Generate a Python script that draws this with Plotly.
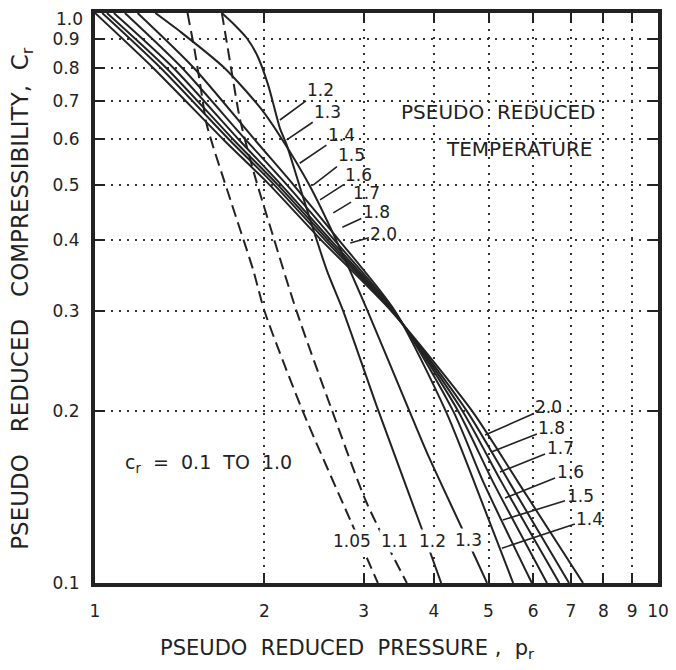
import math
import plotly.graph_objects as go

# pseudo reduced compressibility levels used for the Tr 1.4 - 2.0 curves
cr_band = [1.0, 0.8, 0.6, 0.5, 0.4, 0.3, 0.2, 0.15, 0.1]
pr_t20 = [1.00, 1.27, 1.69, 2.04, 2.52, 3.36, 4.68, 5.65, 7.36]
pr_t18 = [1.03, 1.31, 1.73, 2.08, 2.56, 3.37, 4.58, 5.45, 6.95]
pr_t17 = [1.05, 1.34, 1.76, 2.11, 2.59, 3.38, 4.50, 5.28, 6.68]
pr_t16 = [1.08, 1.38, 1.80, 2.14, 2.62, 3.39, 4.42, 5.10, 6.35]
pr_t15 = [1.13, 1.43, 1.85, 2.19, 2.66, 3.40, 4.33, 4.90, 5.97]
pr_t14 = [1.19, 1.50, 1.92, 2.25, 2.71, 3.41, 4.20, 4.72, 5.53]

pr_t13 = [1.28, 1.42, 1.70, 1.97, 2.15, 2.40, 2.68, 3.05, 3.62, 3.89, 4.48, 4.97]
cr_t13 = [1.0, 0.926, 0.8, 0.68, 0.6, 0.5, 0.4, 0.3, 0.2, 0.169, 0.125, 0.1]

pr_t12 = [1.68, 1.77, 1.86, 1.94, 2.03, 2.13, 2.19, 2.35, 2.58, 2.76, 3.19, 3.80, 4.12]
cr_t12 = [1.0, 0.953, 0.904, 0.844, 0.748, 0.628, 0.587, 0.47, 0.354, 0.30, 0.20, 0.125, 0.10]

# dashed curves
pr_t11 = [1.68, 1.72, 1.76, 1.81, 1.92, 2.05, 2.28, 2.64, 3.04, 3.58]
cr_t11 = [1.0, 0.87, 0.76, 0.65, 0.52, 0.42, 0.30, 0.20, 0.138, 0.10]
pr_t105 = [1.46, 1.505, 1.543, 1.58, 1.74, 1.91, 2.0, 2.34, 2.84, 3.18]
cr_t105 = [1.0, 0.854, 0.733, 0.636, 0.47, 0.354, 0.30, 0.20, 0.129, 0.10]

x_ticks = [1, 2, 3, 4, 5, 6, 7, 8, 9, 10]
x_text = ["1", "2", "3", "4", "5", "6", "7", "8", "9", "10"]
y_ticks = [0.1, 0.2, 0.3, 0.4, 0.5, 0.6, 0.7, 0.8, 0.9, 1.0]
# the top label is written as an annotation so it is not cut at the page edge
y_text = ["0.1", "0.2", "0.3", "0.4", "0.5", "0.6", "0.7", "0.8", "0.9", ""]
y_top_text = "1.0"

# label text position (pr, cr) and leader tip (pr, cr)
top_labels = [
    ("1.2", 2.52, 0.733, 2.13, 0.649),
    ("1.3", 2.59, 0.670, 2.19, 0.599),
    ("1.4", 2.74, 0.611, 2.31, 0.545),
    ("1.5", 2.86, 0.563, 2.44, 0.499),
    ("1.6", 2.94, 0.520, 2.51, 0.470),
    ("1.7", 3.03, 0.483, 2.65, 0.446),
    ("1.8", 3.16, 0.448, 2.75, 0.421),
    ("2.0", 3.26, 0.410, 2.84, 0.395),
]
bottom_labels = [
    ("2.0", 6.40, 0.2036, 4.93, 0.1818),
    ("1.8", 6.48, 0.187, 5.07, 0.170),
    ("1.7", 6.70, 0.1725, 5.24, 0.1566),
    ("1.6", 6.98, 0.1566, 5.35, 0.141),
    ("1.5", 7.27, 0.142, 5.30, 0.129),
    ("1.4", 7.57, 0.1295, 5.28, 0.1151),
]
# labels sitting on the curves near the bottom
inline_labels = [("1.05", 2.86, 0.1185), ("1.1", 3.41, 0.1185), ("1.2", 3.98, 0.1185), ("1.3", 4.60, 0.1192)]

INK = "#222222"
FONT = "DejaVu Sans"

fig = go.Figure()

curves = [
    (pr_t20, cr_band, "solid"),
    (pr_t18, cr_band, "solid"),
    (pr_t17, cr_band, "solid"),
    (pr_t16, cr_band, "solid"),
    (pr_t15, cr_band, "solid"),
    (pr_t14, cr_band, "solid"),
    (pr_t13, cr_t13, "solid"),
    (pr_t12, cr_t12, "solid"),
    (pr_t11, cr_t11, "12px,6px"),
    (pr_t105, cr_t105, "12px,6px"),
]
for px_, cy_, dash in curves:
    fig.add_trace(go.Scatter(
        x=px_, y=cy_, mode="lines",
        line=dict(color=INK, width=2, dash=dash, shape="spline", smoothing=0.7),
        hoverinfo="skip",
    ))

ann = []
for txt, tx, ty, hx, hy in top_labels + bottom_labels:
    ann.append(dict(
        x=math.log10(hx), y=math.log10(hy), ax=math.log10(tx), ay=math.log10(ty),
        xref="x", yref="y", axref="x", ayref="y",
        text=txt, showarrow=True, arrowhead=0, arrowwidth=1.6, arrowcolor=INK,
        font=dict(size=17, color=INK, family=FONT),
    ))
for txt, tx, ty in inline_labels:
    ann.append(dict(
        x=math.log10(tx), y=math.log10(ty), xref="x", yref="y",
        text=txt, showarrow=False, bgcolor="white",
        font=dict(size=17, color=INK, family=FONT),
    ))

ann.append(dict(x=math.log10(5.20), y=math.log10(0.670), xref="x", yref="y",
                text="PSEUDO  REDUCED", showarrow=False,
                font=dict(size=20, color=INK, family=FONT)))
ann.append(dict(x=math.log10(5.66), y=math.log10(0.577), xref="x", yref="y",
                text="TEMPERATURE", showarrow=False,
                font=dict(size=20, color=INK, family=FONT)))
ann.append(dict(x=math.log10(1.59), y=math.log10(0.1618), xref="x", yref="y",
                text="c<sub>r</sub>  =  0.1  TO  1.0", showarrow=False,
                font=dict(size=19, color=INK, family=FONT)))

# top y tick label
ann.append(dict(x=0, y=1, xref="paper", yref="paper", xanchor="right", yanchor="top",
                xshift=-10, yshift=6, text=y_top_text, showarrow=False,
                font=dict(size=17, color=INK, family=FONT)))

# axis titles
ann.append(dict(x=0.449, y=-0.115, xref="paper", yref="paper", xanchor="center", yanchor="middle",
                text="PSEUDO  REDUCED  PRESSURE ,  p<sub>r</sub>", showarrow=False,
                font=dict(size=21, color=INK, family=FONT)))
ann.append(dict(x=-0.13, y=0.5, xref="paper", yref="paper", xanchor="center", yanchor="middle",
                textangle=-90,
                text="PSEUDO   REDUCED   COMPRESSIBILITY,  C<sub>r</sub>", showarrow=False,
                font=dict(size=23, color=INK, family=FONT)))

axis_common = dict(
    type="log", ticks="inside", ticklen=10, tickwidth=2, tickcolor=INK,
    showline=True, linewidth=4, linecolor=INK, mirror="allticks",
    showgrid=True, gridcolor="#333333", gridwidth=2, griddash="2px,6px",
    zeroline=False, automargin=False, ticklabeloverflow="allow",
    tickfont=dict(size=17, color=INK, family=FONT),
)

# page body keeps its 8px default margin, so the figure is 8px smaller each way
fig.update_layout(
    template="none",
    width=668, height=662,
    margin=dict(l=87, r=18, t=5, b=87),
    plot_bgcolor="white", paper_bgcolor="white",
    showlegend=False,
    font=dict(family=FONT, color=INK),
    xaxis=dict(range=[0, 1], tickvals=x_ticks, ticktext=x_text, ticklabelstandoff=10, **axis_common),
    yaxis=dict(range=[-1, 0], tickvals=y_ticks, ticktext=y_text, ticklabelstandoff=8, **axis_common),
    annotations=ann,
)

fig.write_html("out.html")
